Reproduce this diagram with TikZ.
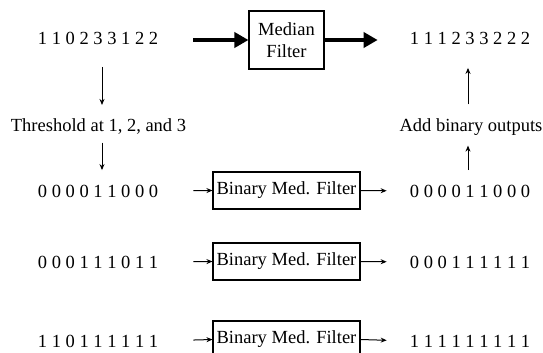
\documentclass[tikz,border=0pt]{standalone}
\usepackage{fontspec}
\setmainfont{Liberation Serif}
\usetikzlibrary{arrows.meta}

\begin{document}
\begin{tikzpicture}[x=1pt,y=-1pt,
  every node/.style={font=\fontsize{18.5}{22}\selectfont, inner sep=0pt},
  filterbox/.style={draw, line width=1.1pt, minimum height=37pt, minimum width=147pt},
  fatarrow/.style={line width=4pt, -{Triangle[length=14pt,width=15pt]}},
  thinarrow/.style={line width=1pt, -{Stealth[length=6pt,width=5pt]}}]
\useasboundingbox (0,0) rectangle (543,353);

% median filter on the whole signal
\node (in1) at (98,38) {1 1 0 2 3 3 1 2 2};
\node [draw, line width=1.1pt, minimum width=75pt, minimum height=58pt, align=center] (med) at (286.5,40) {Median\\Filter};
\node (out1) at (470,38) {1 1 1 2 3 3 2 2 2};
\draw [fatarrow, shorten <=35pt] (in1.east |- med.west) -- (med.west);
\draw [fatarrow, shorten >=32pt] (med.east) -- (med.east -| out1.west);

\node (thr) at (98.5,127) {Threshold at 1, 2, and 3};
\node (add) at (471,127) {Add binary outputs};

% threshold decomposition
\node (in2) at (98,191) {0 0 0 0 1 1 0 0 0};
\node (in3) at (98,262) {0 0 0 1 1 1 0 1 1};
\node (in4) at (98,341) {1 1 0 1 1 1 1 1 1};

\node [filterbox] (bin2) at (286.5,190.5) {Binary Med. Filter};
\node [filterbox] (bin3) at (286.5,261.5) {Binary Med. Filter};
\node [filterbox] (bin4) at (286.5,339.5) {Binary Med. Filter};

\node (out2) at (470,191) {0 0 0 0 1 1 0 0 0};
\node (out3) at (470,262) {0 0 0 1 1 1 1 1 1};
\node (out4) at (470,341) {1 1 1 1 1 1 1 1 1};

\draw [thinarrow, shorten <=35pt] (in2.east) -- (bin2.west);
\draw [thinarrow, shorten <=35pt] (in3.east) -- (bin3.west);
\draw [thinarrow, shorten <=35pt] (in4.east) -- (bin4.west);
\draw [thinarrow, shorten >=23pt] (bin2.east) -- (out2.west);
\draw [thinarrow, shorten >=23pt] (bin3.east) -- (out3.west);
\draw [thinarrow, shorten >=23pt] (bin4.east) -- (out4.west);

% vertical arrows
\draw [thinarrow, shorten <=22.5pt, shorten >=14pt] ([xshift=4pt]in1.south) -- ([xshift=4pt]in1.south |- thr.north);
\draw [thinarrow, shorten <=7.5pt, shorten >=14.5pt] ([xshift=4pt]in1.south |- thr.south) -- ([xshift=4pt]in2.north);
\draw [thinarrow, shorten <=14pt, shorten >=23.5pt] ([xshift=-2pt]out1.south |- add.north) -- ([xshift=-2pt]out1.south);
\draw [thinarrow, shorten <=14.5pt, shorten >=10pt] ([xshift=-2pt]out2.north) -- ([xshift=-2pt]out2.north |- add.south);
\end{tikzpicture}
\end{document}
